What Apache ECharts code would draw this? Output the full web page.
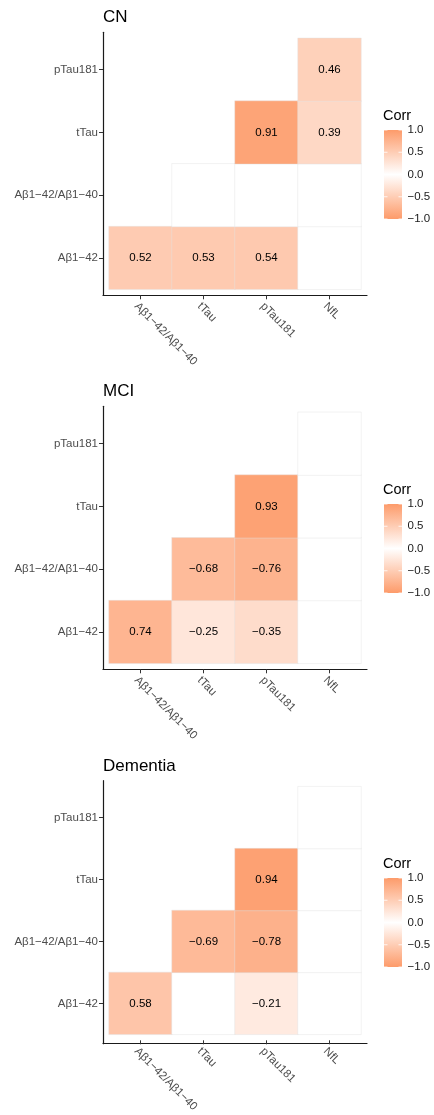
<!DOCTYPE html>
<html>
<head>
<meta charset="utf-8">
<script src="https://cdn.jsdelivr.net/npm/echarts@6/dist/echarts.min.js"></script>
<style>
html,body{margin:0;padding:0;background:#fff;}
#chart{width:434px;height:1115px;}
</style>
</head>
<body>
<div id="chart"></div>
<script>
// Categories
const xCats = ['A\u03b21\u221242/A\u03b21\u221240', 'tTau', 'pTau181', 'NfL'];
const yCats = ['A\u03b21\u221242', 'A\u03b21\u221242/A\u03b21\u221240', 'tTau', 'pTau181'];
const panelTitles = ['CN', 'MCI', 'Dementia'];
// Correlation matrices: rows = yCats (bottom to top), cols = xCats
// null = cell not drawn, 'ns' = blank (white) cell
const cnCorr = [
  [0.52, 0.53, 0.54, 'ns'],
  [null, 'ns', 'ns', 'ns'],
  [null, null, 0.91, 0.39],
  [null, null, null, 0.46]
];
const mciCorr = [
  [0.74, -0.25, -0.35, 'ns'],
  [null, -0.68, -0.76, 'ns'],
  [null, null, 0.93, 'ns'],
  [null, null, null, 'ns']
];
const demCorr = [
  [0.58, 'ns', -0.21, 'ns'],
  [null, -0.69, -0.78, 'ns'],
  [null, null, 0.94, 'ns'],
  [null, null, null, 'ns']
];
const legendTicks = [1.0, 0.5, 0.0, -0.5, -1.0];

const FONT = "'Liberation Sans', Arial, Helvetica, sans-serif";
const ORANGE = '#FD9B6A';
const fmt = v => (v < 0 ? '\u2212' : '') + Math.abs(v).toFixed(2);
const fmt1 = v => (v < 0 ? '\u2212' : '') + Math.abs(v).toFixed(1);

const matrices = [cnCorr, mciCorr, demCorr];
const cellTops = [38.3, 412.3, 786.7];
const titleTops = [8.5, 382.5, 757.5];
const legendTitleTops = [108, 482, 856];
const barTops = [130, 504, 878];
const CELL_LEFT = 109, CELL_W = 252, CELL_H = 251, PAD = 6;
const BAR_X = 384, BAR_W = 18, BAR_H = 89;

const grid = [], xAxis = [], yAxis = [], series = [], title = [], graphic = [];

matrices.forEach((m, p) => {
  const T = cellTops[p];
  // data grid
  grid.push({ left: CELL_LEFT, top: T, width: CELL_W, height: CELL_H, containLabel: false });
  // frame grid (axis lines with ggplot-style expansion)
  grid.push({ left: CELL_LEFT - PAD, top: T - PAD, width: CELL_W + 2 * PAD, height: CELL_H + 2 * PAD, containLabel: false });
  const gData = 2 * p, gFrame = 2 * p + 1;

  xAxis.push({
    type: 'category', data: xCats, gridIndex: gData, offset: PAD,
    axisLine: { show: false },
    axisTick: { show: true, alignWithLabel: true, length: 4, lineStyle: { color: '#333', width: 1 } },
    axisLabel: { rotate: -45, margin: 5, verticalAlign: 'top', align: 'left', fontSize: 11.5, color: '#4D4D4D', fontFamily: FONT, interval: 0 },
    splitLine: { show: false }
  });
  yAxis.push({
    type: 'category', data: yCats, gridIndex: gData, offset: PAD,
    axisLine: { show: false },
    axisTick: { show: true, alignWithLabel: true, length: 4, lineStyle: { color: '#333', width: 1 } },
    axisLabel: { margin: 5, fontSize: 11.5, color: '#4D4D4D', fontFamily: FONT, interval: 0 },
    splitLine: { show: false }
  });
  xAxis.push({
    type: 'value', gridIndex: gFrame, min: 0, max: 1,
    axisLine: { show: true, lineStyle: { color: '#1a1a1a', width: 1.2 } },
    axisTick: { show: false }, axisLabel: { show: false }, splitLine: { show: false }
  });
  yAxis.push({
    type: 'value', gridIndex: gFrame, min: 0, max: 1,
    axisLine: { show: true, lineStyle: { color: '#1a1a1a', width: 1.2 } },
    axisTick: { show: false }, axisLabel: { show: false }, splitLine: { show: false }
  });

  const data = [];
  m.forEach((row, yi) => row.forEach((v, xi) => {
    if (v === null) return;
    data.push({ value: [xi, yi, v === 'ns' ? 0 : v], ns: v === 'ns' });
  }));
  series.push({
    type: 'heatmap', xAxisIndex: 2 * p, yAxisIndex: 2 * p,
    data: data,
    itemStyle: { borderColor: 'rgba(225,225,225,0.7)', borderWidth: 0.6 },
    label: {
      show: true, fontSize: 11.5, color: '#000', fontFamily: FONT,
      formatter: prm => prm.data.ns ? '' : fmt(prm.data.value[2])
    },
    emphasis: { disabled: true }
  });

  title.push({
    text: panelTitles[p], left: 103, top: titleTops[p], padding: 0,
    textStyle: { fontSize: 17, fontWeight: 'normal', color: '#000', fontFamily: FONT }
  });

  // colorbar legend
  const bt = barTops[p];
  graphic.push({
    type: 'text', left: 383, top: legendTitleTops[p],
    style: { text: 'Corr', fontSize: 14.5, fill: '#000', fontFamily: FONT }
  });
  graphic.push({
    type: 'rect', shape: { x: BAR_X, y: bt, width: BAR_W, height: BAR_H },
    style: {
      fill: new echarts.graphic.LinearGradient(0, 0, 0, 1, [
        { offset: 0, color: ORANGE }, { offset: 0.5, color: '#FFFFFF' }, { offset: 1, color: ORANGE }
      ])
    }
  });
  legendTicks.forEach(t => {
    const y = bt + (1 - t) / 2 * BAR_H;
    graphic.push({ type: 'line', shape: { x1: BAR_X, y1: y, x2: BAR_X + 3.5, y2: y }, style: { stroke: '#fff', lineWidth: 0.8 } });
    graphic.push({ type: 'line', shape: { x1: BAR_X + BAR_W - 3.5, y1: y, x2: BAR_X + BAR_W, y2: y }, style: { stroke: '#fff', lineWidth: 0.8 } });
    graphic.push({
      type: 'text', x: 407.5, y: y,
      style: { text: fmt1(t), fontSize: 11.5, fill: '#1a1a1a', fontFamily: FONT, verticalAlign: 'middle', align: 'left' }
    });
  });
});

const chart = echarts.init(document.getElementById('chart'), null, { renderer: 'canvas' });
chart.setOption({
  animation: false,
  backgroundColor: '#fff',
  title: title,
  grid: grid,
  xAxis: xAxis,
  yAxis: yAxis,
  visualMap: {
    type: 'continuous', show: false, min: -1, max: 1, dimension: 2,
    seriesIndex: [0, 1, 2],
    inRange: { color: [ORANGE, '#FFFFFF', ORANGE] }
  },
  series: series,
  graphic: graphic
});
</script>
</body>
</html>
